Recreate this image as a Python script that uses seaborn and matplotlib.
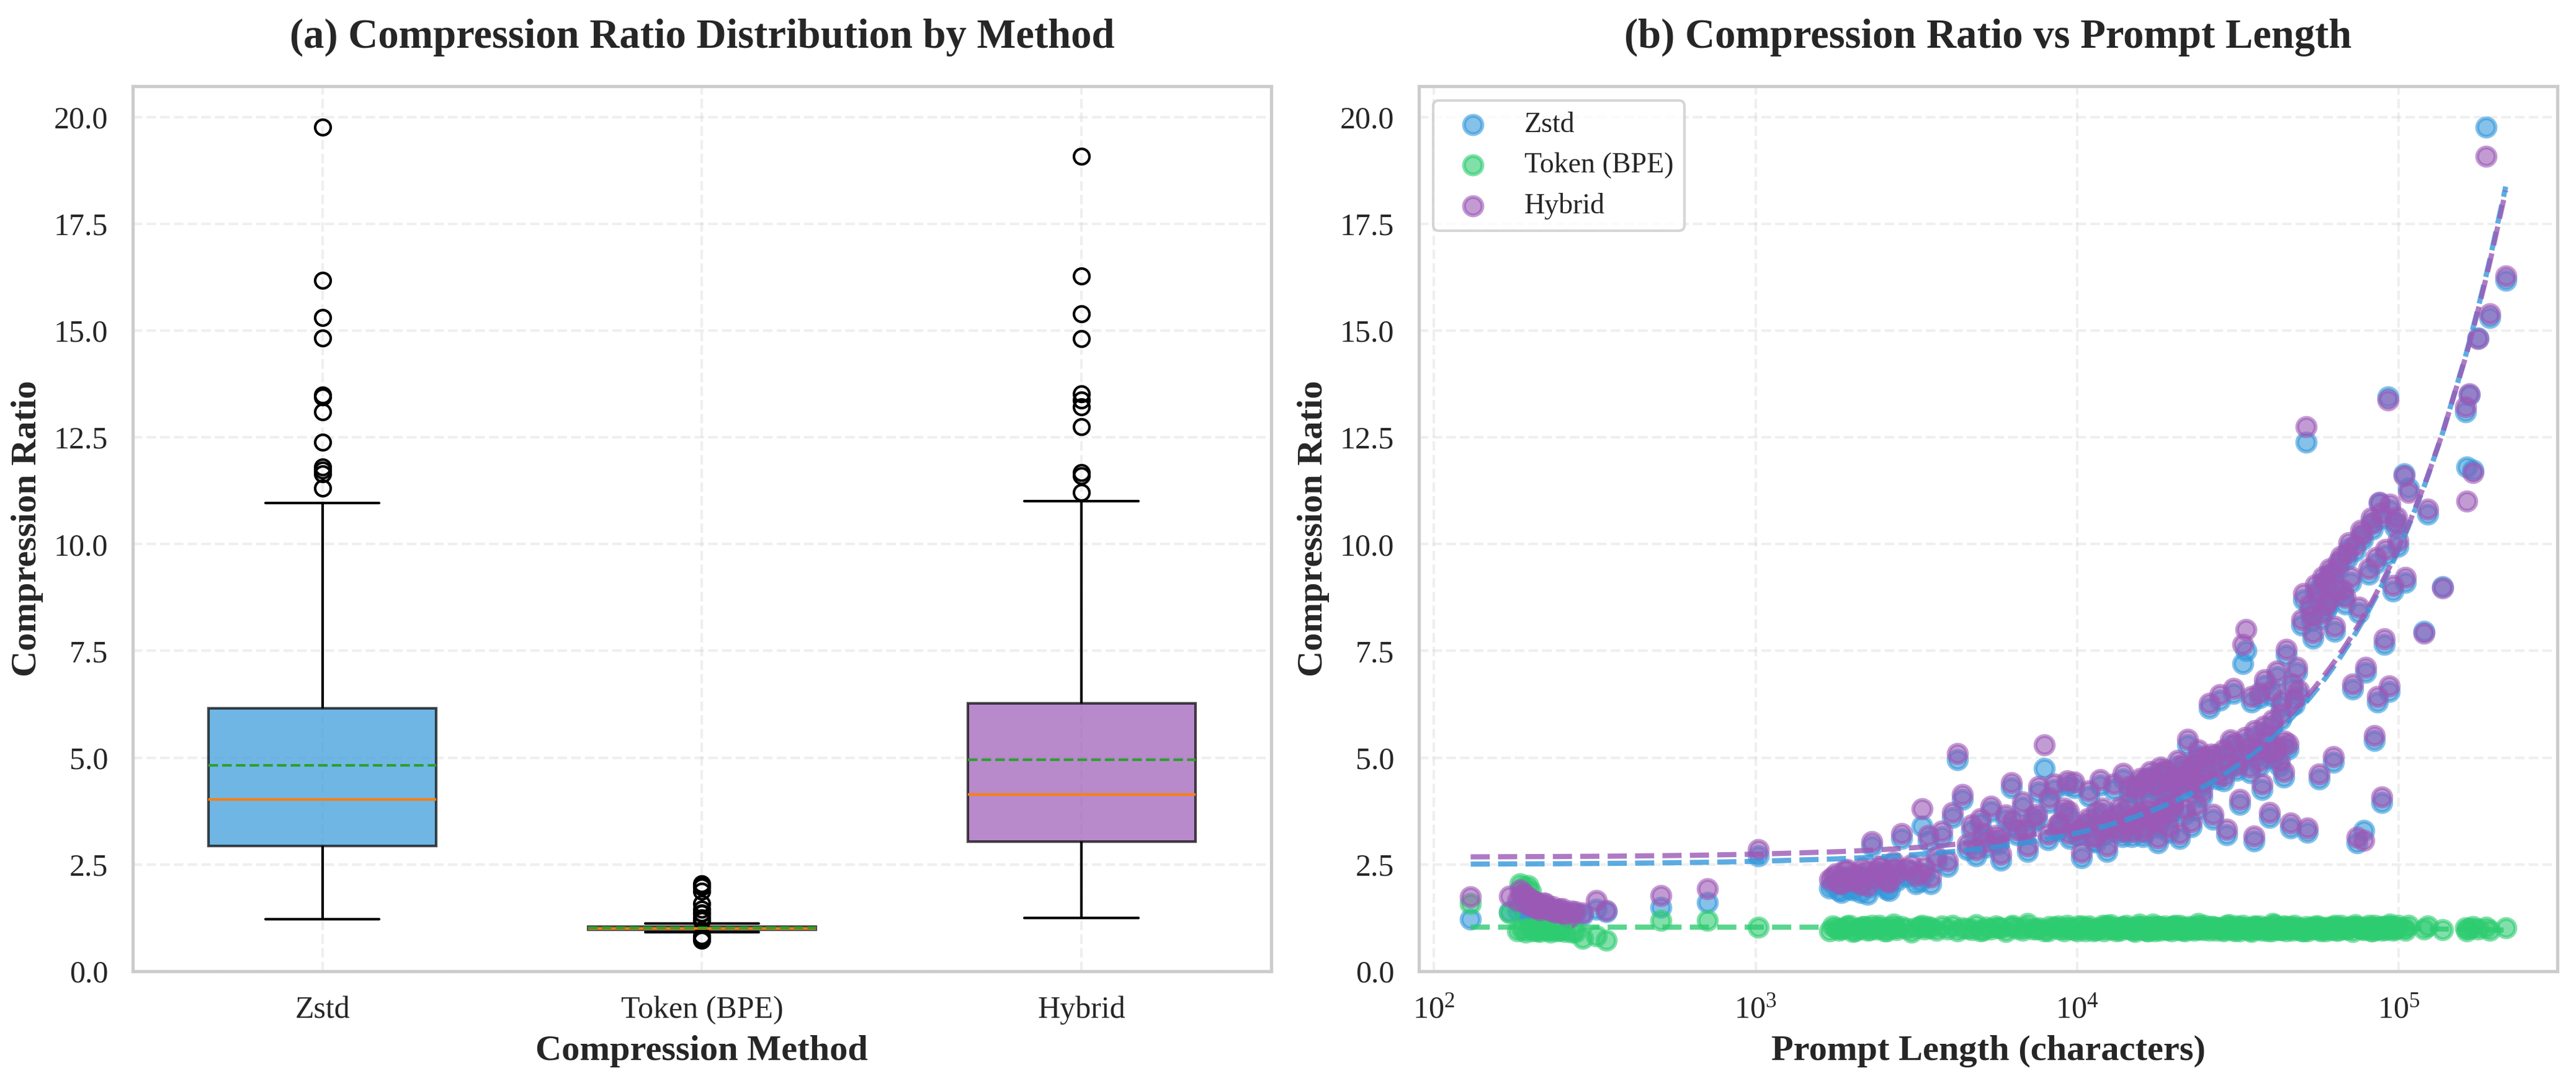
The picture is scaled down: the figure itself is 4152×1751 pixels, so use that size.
# =========================================
# Compression ratio: box plot by method + ratio vs prompt length
# =========================================

import numpy as np
import pandas as pd
import matplotlib
matplotlib.use('Agg')
import matplotlib.pyplot as plt
import seaborn as sns
import warnings

warnings.filterwarnings('ignore')

# =========================================
# Data
# =========================================

methods = ['Zstd', 'Token (BPE)', 'Hybrid']
colors = ['#3498db', '#2ecc71', '#9b59b6']

# prompt length in characters, one entry per prompt
prompt_length = [
    # short prompts
    130, 172, 185, 190, 196, 200, 205, 210, 216, 222, 230, 238, 246, 255, 262,
    275, 290, 320, 344, 507, 708, 1020,
    # 1.7k - 3.5k
    1700, 1780, 1850, 1920, 2000, 2080, 2150, 2230, 2300, 2380, 2450, 2520,
    2600, 2680, 2750, 2850, 2950, 3050, 3150, 3300, 3350, 3450,
    # 3.5k - 10k
    3500, 3650, 3800, 3950, 4100, 4250, 4400, 4550, 4700, 4850, 5000, 5200,
    5400, 5600, 5800, 6000, 6250, 6500, 6750, 7000, 7300, 7600, 7900, 8200,
    8500, 8800, 9100, 9300, 9500, 9800,
    # 10k - 25k
    10000, 10300, 10600, 10900, 11200, 11500, 11800, 12100, 12400, 12700,
    13000, 13300, 13600, 13900, 14200, 14500, 14800, 15100, 15400, 15700,
    16000, 16300, 16600, 16900, 17200, 17500, 17800, 18100, 18400, 18700,
    19000, 19300, 19600, 19900, 20200, 20500, 20800, 21100, 21400, 21700,
    22000, 22300, 22600, 22900, 23200, 23500, 23800, 24100, 24400, 24700,
    # 25k - 50k
    25000, 25700, 26400, 27100, 27800, 28500, 29200, 29900, 30600, 31300,
    32000, 32700, 33400, 34100, 34800, 35500, 36200, 36900, 37600, 38300,
    39000, 39700, 40400, 41100, 41800, 42500, 43200, 43900, 44600, 45300,
    46000, 46700, 47400, 48100, 48800,
    # 50k - 100k
    50500, 51400, 52000, 53500, 55000, 56500, 58000, 59500, 61000, 62500,
    64000, 66000, 68000, 70000, 72000, 74000, 76000, 78000, 79000, 82000,
    84000, 86000, 87000, 88500, 90000, 92700, 93500, 97000,
    # > 100k
    104000, 105000, 107000, 120000, 123000, 137000, 161000, 163000, 166000,
    170000, 176000, 187000, 192000, 215000,
    # second batch: short prompts
    182, 188, 193, 198, 203, 207, 213, 219, 226, 234, 242, 251, 268,
    1740, 1820, 1890, 1960, 2040, 2120, 2190, 2270, 2420, 2560, 2720, 3250,
    # second batch: 5k - 20k
    5100, 5700, 6300, 6900, 7500, 8100, 8700, 9400, 10100, 10800, 11400, 12000,
    12600, 13200, 13800, 14400, 15000, 15600, 16200, 16800, 17400, 18000,
    18600, 19200, 19800,
    # second batch: 15k - 45k
    15300, 16500, 17700, 18900, 20100, 21300, 22500, 23700, 24900, 26100,
    27300, 28500, 29700, 30900, 32100, 33300, 34500, 35700, 36900, 38100,
    39300, 40500, 41700, 42900, 44100,
    # second batch: 50k - 100k
    50000, 52800, 54200, 56000, 57200, 59000, 60200, 62000, 63300, 65000,
    67000, 69000, 71000, 73000, 75000, 77000, 80500, 83000, 85000, 88000,
    91000, 94000, 96000, 98500, 99500,
]

zstd_ratio = [
    1.22, 1.40, 1.55, 1.48, 1.60, 1.35, 1.45, 1.30, 1.38, 1.50, 1.33, 1.28, 1.36, 1.30, 1.26,
    1.34, 1.32, 1.45, 1.40, 1.50, 1.61, 2.70,
    1.95, 2.10, 1.85, 2.20, 1.90, 2.05, 2.25, 1.80, 2.93, 2.15, 2.30, 2.00,
    1.88, 2.40, 2.12, 3.10, 2.22, 2.35, 2.05, 3.40, 2.28, 3.05,
    2.05, 2.55, 3.15, 2.45, 3.60, 4.95, 4.02, 2.85, 3.30, 2.70, 3.45, 2.90,
    3.75, 3.05, 2.60, 3.55, 4.30, 3.20, 3.85, 2.80, 3.50, 4.20, 4.75, 3.95,
    4.25, 3.35, 3.70, 4.35, 3.10, 4.30,
    3.20, 2.65, 3.35, 4.10, 3.05, 3.60, 4.35, 3.20, 2.80, 3.45,
    4.25, 3.25, 3.70, 4.50, 3.30, 4.20, 3.15, 4.20, 3.50, 4.40,
    3.15, 4.35, 3.65, 4.55, 3.40, 4.25, 3.00, 4.65, 3.55, 4.60,
    4.15, 3.25, 4.30, 3.75, 4.40, 4.80, 3.10, 4.20, 4.45, 3.68,
    5.30, 4.55, 3.38, 4.70, 4.30, 3.78, 5.05, 4.30, 4.08, 4.40,
    4.90, 6.15, 3.55, 4.95, 6.35, 4.45, 3.20, 5.30, 6.50, 4.70,
    3.90, 7.20, 7.50, 5.10, 6.30, 3.05, 5.05, 6.40, 4.25, 6.70,
    5.40, 3.60, 6.45, 5.00, 6.90, 4.80, 6.20, 4.55, 7.40, 5.20,
    3.35, 6.60, 6.25, 7.00, 6.45,
    8.70, 12.39, 3.25, 8.20, 8.90, 4.50, 9.10, 8.45, 9.30, 4.90,
    8.80, 9.60, 8.60, 9.90, 6.60, 3.00, 10.20, 3.30, 7.00, 10.50,
    5.40, 6.30, 10.96, 3.95, 7.65, 13.45, 6.55, 10.40,
    11.64, 9.10, 11.31, 7.95, 10.70, 9.00, 13.10, 11.81, 13.49,
    11.73, 14.83, 19.77, 15.31, 16.18,
    1.42, 1.52, 1.36, 1.47, 1.33, 1.41, 1.29, 1.44, 1.31, 1.37, 1.27, 1.34, 1.29,
    2.02, 1.88, 2.18, 1.93, 2.08, 1.84, 2.14, 1.97, 2.26, 1.91, 2.20, 2.10,
    3.12, 2.98, 3.40, 3.22, 3.55, 3.08, 3.30, 3.62, 3.18, 3.45, 3.02, 3.70,
    3.28, 3.52, 3.15, 3.80, 3.38, 3.60, 3.25, 3.90, 3.48, 3.35,
    3.72, 3.58, 3.85,
    4.15, 4.40, 4.25, 4.55, 4.35, 4.70, 4.45, 4.85, 4.60, 4.95,
    4.50, 5.05, 4.75, 5.20, 4.90, 5.35, 4.65, 5.50, 4.80, 5.60,
    5.00, 5.75, 5.15, 5.90, 5.25,
    8.10, 8.45, 7.80, 8.70, 8.25, 9.00, 8.55, 9.20, 7.95, 9.45,
    8.80, 9.65, 9.10, 9.85, 8.40, 10.10, 9.30, 10.35, 9.55, 10.60,
    9.75, 10.80, 8.90, 10.50, 9.95,
]

token_ratio = [
    1.58, 1.37, 2.05, 1.97, 2.00, 1.87, 1.00, 0.95, 1.45, 0.98, 0.92, 1.35, 0.96, 0.93, 1.25,
    0.91, 0.77, 0.83, 0.73, 1.19, 1.19, 1.03,
    0.95, 1.02, 0.98, 1.06, 0.93, 1.00, 1.04, 0.96, 1.08, 0.99, 1.01, 0.94,
    1.03, 1.10, 0.97, 1.05, 1.00, 0.92, 1.02, 1.07, 0.98, 1.04,
    1.01, 0.96, 1.06, 0.99, 1.07, 0.94, 1.02, 1.00, 0.97, 1.09, 0.95, 1.03,
    0.98, 1.06, 1.01, 0.93, 1.04, 1.00, 0.96, 1.11, 0.99, 1.02, 0.95, 1.05,
    1.03, 0.98, 0.94, 1.08, 1.00, 0.97,
    0.95, 1.06, 0.95, 1.06, 0.94, 0.97, 1.02, 0.94, 1.07, 1.09,
    0.99, 1.01, 0.96, 1.03, 1.07, 0.98, 1.00, 0.93, 1.05, 1.02,
    0.97, 1.04, 0.95, 1.01, 1.10, 0.99, 1.03, 0.96, 1.00, 1.06,
    0.98, 1.02, 0.94, 1.04, 1.01, 0.97, 1.08, 0.99, 1.03, 0.95,
    1.00, 1.05, 0.98, 1.02, 0.96, 1.04, 1.12, 0.99, 1.01, 0.97,
    1.02, 0.96, 1.05, 0.96, 1.01, 0.94, 1.07, 1.00, 0.97, 1.06,
    0.95, 1.08, 0.98, 1.02, 0.93, 1.04, 1.00, 1.06, 0.96, 1.01,
    0.99, 1.03, 0.95, 1.09, 0.98, 1.02, 0.97, 1.05, 0.94, 1.00,
    1.04, 0.96, 1.07, 0.99, 1.01,
    0.95, 1.05, 0.95, 1.01, 1.06, 0.97, 1.02, 0.94, 1.00, 1.04,
    0.96, 1.08, 0.98, 1.02, 0.93, 1.05, 1.00, 0.97, 1.03, 0.95,
    1.07, 0.99, 1.01, 0.96, 1.04, 1.00, 1.06, 0.98,
    1.01, 0.96, 1.07, 0.99, 1.06, 0.97, 1.02, 0.95, 1.00,
    1.05, 0.98, 1.03, 0.96, 1.02,
    0.94, 0.98, 0.92, 1.01, 0.95, 0.99, 0.93, 1.03, 0.96, 0.97, 0.94, 1.00, 0.92,
    1.06, 0.96, 1.02, 1.08, 0.95, 1.00, 1.04, 0.97, 1.07, 0.94, 1.01, 1.05,
    0.96, 1.01, 1.07, 1.03, 0.98, 0.95, 1.06, 1.00, 1.06, 1.02, 0.97, 1.08,
    0.99, 0.95, 1.04, 1.00, 0.96, 1.10, 0.98, 1.02, 0.94, 1.05,
    1.01, 0.97, 1.05,
    1.00, 0.95, 1.04, 0.98, 1.07, 0.96, 1.02, 0.99, 1.08, 1.05,
    1.01, 0.97, 1.09, 0.94, 1.03, 1.00, 0.96, 1.06, 0.98, 1.02,
    0.95, 1.11, 0.99, 0.97, 1.06,
    0.95, 1.02, 0.98, 1.06, 0.94, 1.00, 1.03, 0.97, 1.08, 0.96,
    1.01, 0.99, 1.05, 1.09, 1.02, 0.98, 1.07, 0.95, 1.00, 1.04,
    0.97, 1.10, 0.96, 1.01, 1.07,
]

hybrid_ratio = [
    1.74, 1.75, 1.90, 1.82, 1.70, 1.55, 1.62, 1.48, 1.52, 1.58, 1.42, 1.38, 1.45, 1.35, 1.25,
    1.40, 1.36, 1.65, 1.42, 1.77, 1.93, 2.85,
    2.15, 2.28, 2.05, 2.38, 2.12, 2.22, 2.42, 2.01, 3.04, 2.33, 2.45, 2.20,
    2.09, 2.55, 2.30, 3.22, 2.40, 2.50, 2.24, 3.80, 2.44, 3.18,
    2.20, 2.68, 3.28, 2.58, 3.72, 5.10, 4.14, 2.98, 3.42, 2.84, 3.57, 3.02,
    3.86, 3.18, 2.74, 3.66, 4.42, 3.31, 3.97, 2.93, 3.61, 4.33, 5.30, 4.07,
    4.38, 3.47, 3.82, 4.46, 3.22, 4.43,
    3.32, 2.78, 3.46, 4.23, 3.17, 3.73, 4.48, 3.32, 2.93, 3.58,
    4.38, 3.36, 3.83, 4.63, 3.42, 4.33, 3.27, 4.32, 3.63, 4.52,
    3.27, 4.48, 3.78, 4.67, 3.52, 4.37, 3.12, 4.78, 3.67, 4.72,
    4.27, 3.38, 4.43, 3.87, 4.52, 4.93, 3.22, 4.33, 4.57, 3.80,
    5.43, 4.68, 3.50, 4.82, 4.43, 3.90, 5.18, 4.42, 4.20, 4.53,
    5.02, 6.27, 3.68, 5.07, 6.48, 4.58, 3.33, 5.42, 6.62, 4.82,
    4.02, 7.65, 8.00, 5.22, 6.43, 3.17, 5.18, 6.52, 4.38, 6.83,
    5.52, 3.72, 6.58, 5.13, 7.03, 4.92, 6.32, 4.67, 7.53, 5.33,
    3.47, 6.73, 6.37, 7.12, 6.58,
    8.84, 12.75, 3.36, 8.33, 9.05, 4.62, 9.24, 8.58, 9.43, 5.02,
    8.93, 9.72, 8.75, 10.03, 6.72, 3.14, 10.33, 3.06, 7.12, 10.62,
    5.52, 6.43, 10.98, 4.08, 7.78, 13.37, 6.68, 10.52,
    11.60, 9.22, 11.21, 7.92, 10.82, 8.98, 13.22, 11.00, 13.52,
    11.68, 14.81, 19.08, 15.39, 16.28,
    1.66, 1.78, 1.58, 1.71, 1.50, 1.63, 1.44, 1.60, 1.47, 1.51, 1.39, 1.46, 1.41,
    2.21, 2.06, 2.36, 2.13, 2.27, 2.03, 2.33, 2.17, 2.46, 2.10, 2.41, 2.30,
    3.24, 3.10, 3.53, 3.33, 3.67, 3.21, 3.42, 3.75, 3.30, 3.57, 3.15, 3.82,
    3.40, 3.64, 3.27, 3.93, 3.50, 3.72, 3.37, 4.02, 3.60, 3.47,
    3.84, 3.70, 3.97,
    4.28, 4.52, 4.37, 4.68, 4.47, 4.83, 4.57, 4.98, 4.72, 5.08,
    4.62, 5.18, 4.87, 5.33, 5.02, 5.48, 4.77, 5.63, 4.92, 5.73,
    5.12, 5.88, 5.27, 6.03, 5.38,
    8.23, 8.58, 7.93, 8.84, 8.38, 9.13, 8.68, 9.33, 8.08, 9.58,
    8.93, 9.78, 9.23, 9.98, 8.53, 10.23, 9.43, 10.48, 9.68, 10.73,
    9.88, 10.93, 9.03, 10.63, 10.08,
]

# =========================================
# Plot styling
# =========================================

sns.set_theme(style='whitegrid')
plt.rcParams['font.family'] = ['Liberation Serif', 'DejaVu Serif']

ratios = {'Zstd': zstd_ratio, 'Token (BPE)': token_ratio, 'Hybrid': hybrid_ratio}

long_df = pd.DataFrame({
    'method': np.repeat(methods, len(prompt_length)),
    'ratio': np.concatenate([ratios[m] for m in methods]),
})

fig, (ax1, ax2) = plt.subplots(1, 2, figsize=(4152 / 300, 1751 / 300), dpi=300)
fig.subplots_adjust(left=0.0515, right=0.9928, bottom=0.1057, top=0.9206, wspace=0.1297)

# =========================================
# (a) Box plot by method
# =========================================

sns.boxplot(
    data=long_df, x='method', y='ratio', hue='method', order=methods,
    palette=colors, legend=False, saturation=1, width=0.6,
    linecolor='black', linewidth=1.0, whis=1.5,
    showmeans=True, meanline=True,
    medianprops=dict(color='#ff7f0e', linewidth=1.0),
    meanprops=dict(color='#2ca02c', linestyle='--', linewidth=1.0),
    flierprops=dict(marker='o', markersize=6, markerfacecolor='none',
                    markeredgecolor='black', markeredgewidth=1.0),
    ax=ax1,
)

for patch, c in zip(ax1.patches, colors):
    patch.set_facecolor(c)
    patch.set_edgecolor('black')
    patch.set_alpha(0.7)

ax1.set_ylim(bottom=0)
ax1.set_title('(a) Compression Ratio Distribution by Method', fontsize=16, fontweight='bold', pad=15)
ax1.set_xlabel('Compression Method', fontsize=14, fontweight='bold')
ax1.set_ylabel('Compression Ratio', fontsize=14, fontweight='bold')
ax1.tick_params(labelsize=12)
ax1.grid(True, linestyle='--', alpha=0.3)

# =========================================
# (b) Ratio vs prompt length
# =========================================

for m, c in zip(methods, colors):
    sns.scatterplot(x=prompt_length, y=ratios[m], color=c, edgecolor=c,
                    linewidth=1.5, s=50, alpha=0.6, label=m, ax=ax2)

# linear trend per method
x_sorted = np.sort(np.array(prompt_length, dtype=float))
for m, c in zip(methods, colors):
    coef = np.polyfit(prompt_length, ratios[m], 1)
    ax2.plot(x_sorted, np.polyval(coef, x_sorted), '--', color=c, alpha=0.8, linewidth=2)

ax2.set_xscale('log')
ax2.set_ylim(bottom=0)
ax2.set_title('(b) Compression Ratio vs Prompt Length', fontsize=16, fontweight='bold', pad=15)
ax2.set_xlabel('Prompt Length (characters)', fontsize=14, fontweight='bold')
ax2.set_ylabel('Compression Ratio', fontsize=14, fontweight='bold')
ax2.tick_params(labelsize=12)
ax2.grid(True, which='major', linestyle='--', alpha=0.3)
ax2.grid(False, which='minor')
ax2.legend(loc='upper left', fontsize=11)

plt.savefig('out.png', dpi=300)
